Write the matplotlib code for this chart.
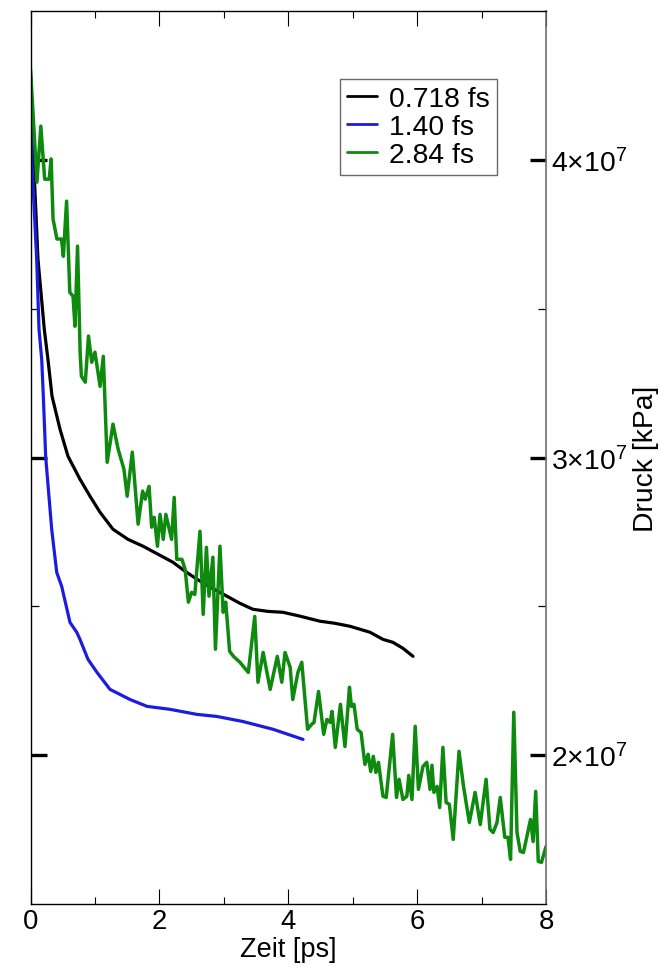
import numpy as np
import matplotlib
matplotlib.use("Agg")
import matplotlib.pyplot as plt
from matplotlib.ticker import FixedLocator, FuncFormatter

plt.rcParams['font.family'] = ['Liberation Sans', 'DejaVu Sans']
plt.rcParams['mathtext.fontset'] = 'custom'
plt.rcParams['mathtext.rm'] = 'Liberation Sans'
plt.rcParams['mathtext.it'] = 'Liberation Sans:italic'

# ---- data (pressure in units of 1e7 kPa, time in ps) ----
labels = ["0.718 fs", "1.40 fs", "2.84 fs"]
colors = ["#000000", "#1c1ce0", "#0e8a0e"]

t_black = [0.00, 0.047, 0.116, 0.214, 0.276, 0.334, 0.458, 0.582, 0.768, 0.923,
           1.079, 1.280, 1.513, 1.746, 1.979, 2.211, 2.398, 2.584, 2.817, 3.049,
           3.251, 3.453, 3.686, 3.918, 4.182, 4.492, 4.725, 4.958, 5.268, 5.470,
           5.625, 5.780, 5.936]
p_black = [4.288, 4.003, 3.666, 3.431, 3.320, 3.206, 3.095, 3.004, 2.927, 2.870,
           2.816, 2.759, 2.725, 2.702, 2.675, 2.648, 2.618, 2.591, 2.561, 2.534,
           2.510, 2.490, 2.483, 2.480, 2.467, 2.450, 2.443, 2.433, 2.413, 2.389,
           2.379, 2.359, 2.332]

t_blue = [0.00, 0.019, 0.096, 0.132, 0.174, 0.199, 0.236, 0.329, 0.407, 0.484,
          0.613, 0.717, 0.768, 0.892, 1.032, 1.234, 1.544, 1.808, 2.165, 2.584,
          2.894, 3.298, 3.763, 4.229]
p_blue = [4.248, 4.003, 3.666, 3.431, 3.330, 3.206, 3.001, 2.759, 2.614, 2.567,
          2.446, 2.413, 2.389, 2.322, 2.278, 2.221, 2.187, 2.164, 2.154, 2.137,
          2.130, 2.113, 2.087, 2.053]

t_green = [0.00, 0.02, 0.10, 0.16, 0.22, 0.29, 0.32, 0.35, 0.41, 0.48,
           0.51, 0.56, 0.61, 0.66, 0.69, 0.73, 0.77, 0.79, 0.85, 0.90,
           0.95, 1.00, 1.08, 1.13, 1.19, 1.28, 1.36, 1.45, 1.50, 1.58,
           1.67, 1.74, 1.78, 1.84, 1.88, 1.92, 1.97, 2.01, 2.06, 2.10,
           2.19, 2.23, 2.27, 2.35, 2.40, 2.45, 2.50, 2.55, 2.63, 2.68,
           2.73, 2.77, 2.83, 2.87, 2.94, 2.99, 3.03, 3.09, 3.15, 3.25,
           3.38, 3.48, 3.53, 3.61, 3.72, 3.83, 3.90, 3.95, 4.03, 4.07,
           4.15, 4.21, 4.30, 4.36, 4.40, 4.47, 4.55, 4.60, 4.65, 4.68,
           4.73, 4.81, 4.88, 4.95, 4.98, 5.02, 5.07, 5.13, 5.19, 5.24,
           5.28, 5.32, 5.36, 5.40, 5.47, 5.52, 5.62, 5.68, 5.72, 5.78,
           5.84, 5.87, 5.92, 5.97, 6.02, 6.09, 6.15, 6.20, 6.23, 6.26,
           6.31, 6.35, 6.40, 6.45, 6.50, 6.56, 6.65, 6.72, 6.81, 6.90,
           6.98, 7.07, 7.13, 7.18, 7.24, 7.29, 7.36, 7.41, 7.45, 7.50,
           7.55, 7.60, 7.65, 7.76, 7.80, 7.84, 7.88, 7.93, 8.00]
p_green = [4.305, 4.228, 3.925, 4.113, 3.935, 3.935, 4.003, 3.801, 3.734, 3.734,
           3.676, 3.861, 3.555, 3.542, 3.441, 3.710, 3.354, 3.273, 3.253, 3.408,
           3.320, 3.354, 3.239, 3.340, 2.984, 3.112, 3.028, 2.961, 2.870, 3.018,
           2.776, 2.887, 2.860, 2.903, 2.766, 2.799, 2.702, 2.809, 2.725, 2.809,
           2.725, 2.866, 2.658, 2.658, 2.624, 2.514, 2.547, 2.540, 2.752, 2.473,
           2.698, 2.534, 2.665, 2.356, 2.702, 2.480, 2.514, 2.349, 2.332, 2.312,
           2.278, 2.466, 2.245, 2.345, 2.221, 2.332, 2.245, 2.345, 2.295, 2.187,
           2.278, 2.312, 2.087, 2.103, 2.110, 2.214, 2.070, 2.120, 2.110, 2.147,
           2.026, 2.171, 2.029, 2.228, 2.164, 2.171, 2.087, 2.076, 1.969, 2.003,
           1.945, 1.996, 1.942, 1.976, 1.862, 1.858, 2.070, 1.858, 1.919, 1.851,
           1.862, 1.932, 1.851, 2.097, 1.885, 1.962, 1.976, 1.885, 1.966, 1.875,
           1.895, 1.824, 2.026, 1.841, 1.835, 1.717, 2.013, 1.895, 1.774, 1.875,
           1.767, 1.919, 1.751, 1.740, 1.774, 1.858, 1.724, 1.724, 1.650, 2.144,
           1.740, 1.677, 1.673, 1.784, 1.710, 1.878, 1.643, 1.640, 1.693]

x_major = [0, 2, 4, 6, 8]
x_minor = [1, 3, 5, 7]
y_major = [2e7, 3e7, 4e7]
y_minor = [2.5e7, 3.5e7]
xlabel = "Zeit [ps]"
ylabel = "Druck [kPa]"
SCALE = 1e7

# ---- figure ----
fig = plt.figure(figsize=(6.6, 9.7), dpi=100)
ax = fig.add_axes([30.5 / 660, 1 - 905 / 970, (546 - 30.5) / 660, (905 - 12) / 970])

series = [(t_black, p_black), (t_blue, p_blue), (t_green, p_green)]
widths = [2.3, 2.3, 2.5]
for (t, p), lab, c, w in zip(series, labels, colors, widths):
    ax.plot(t, np.array(p) * SCALE, color=c, lw=w, label=lab,
            solid_joinstyle='round', solid_capstyle='round')

ax.set_xlim(0, 8)
ax.set_ylim(1.5e7, 4.5e7)

ax.xaxis.set_major_locator(FixedLocator(x_major))
ax.xaxis.set_minor_locator(FixedLocator(x_minor))
ax.yaxis.set_major_locator(FixedLocator(y_major))
ax.yaxis.set_minor_locator(FixedLocator(y_minor))

ax.xaxis.set_major_formatter(FuncFormatter(lambda v, pos: f"{v:g}"))
ax.yaxis.set_major_formatter(
    FuncFormatter(lambda v, pos: r"$%d{\times}10^{7}$" % round(v / SCALE)))

ax.tick_params(axis='x', which='both', direction='in', top=True, bottom=True,
               width=0.8, labelsize=19.8, pad=3, color='black')
ax.tick_params(axis='x', which='major', length=10.5)
ax.tick_params(axis='x', which='minor', length=5.2)
ax.tick_params(axis='y', which='both', direction='in', left=True, right=True,
               labelleft=False, labelright=True, labelsize=20.4, pad=3.5)
ax.tick_params(axis='y', which='major', length=11.5, width=2.4)
ax.tick_params(axis='y', which='minor', length=5.8, width=0.9)

for side in ['left', 'top', 'bottom']:
    ax.spines[side].set_color('black')
    ax.spines[side].set_linewidth(1.0)
ax.spines['right'].set_color('#6e6e6e')
ax.spines['right'].set_linewidth(1.2)

ax.set_xlabel(xlabel, fontsize=19.5, labelpad=1)
ax.yaxis.set_label_position('right')
ax.set_ylabel(ylabel, fontsize=20.3, labelpad=4.5)

leg = ax.legend(loc='upper left', bbox_to_anchor=(340 / 660, 1 - 80 / 970),
                bbox_transform=fig.transFigure, fontsize=20.3, frameon=True,
                fancybox=False, shadow=False, borderpad=0.25, labelspacing=0.07,
                handlelength=1.05, handletextpad=0.45, borderaxespad=0)
leg.get_frame().set_edgecolor('#444444')
leg.get_frame().set_linewidth(1.0)
for line in leg.get_lines():
    line.set_linewidth(2.0)

fig.savefig("out.png", dpi=100)
